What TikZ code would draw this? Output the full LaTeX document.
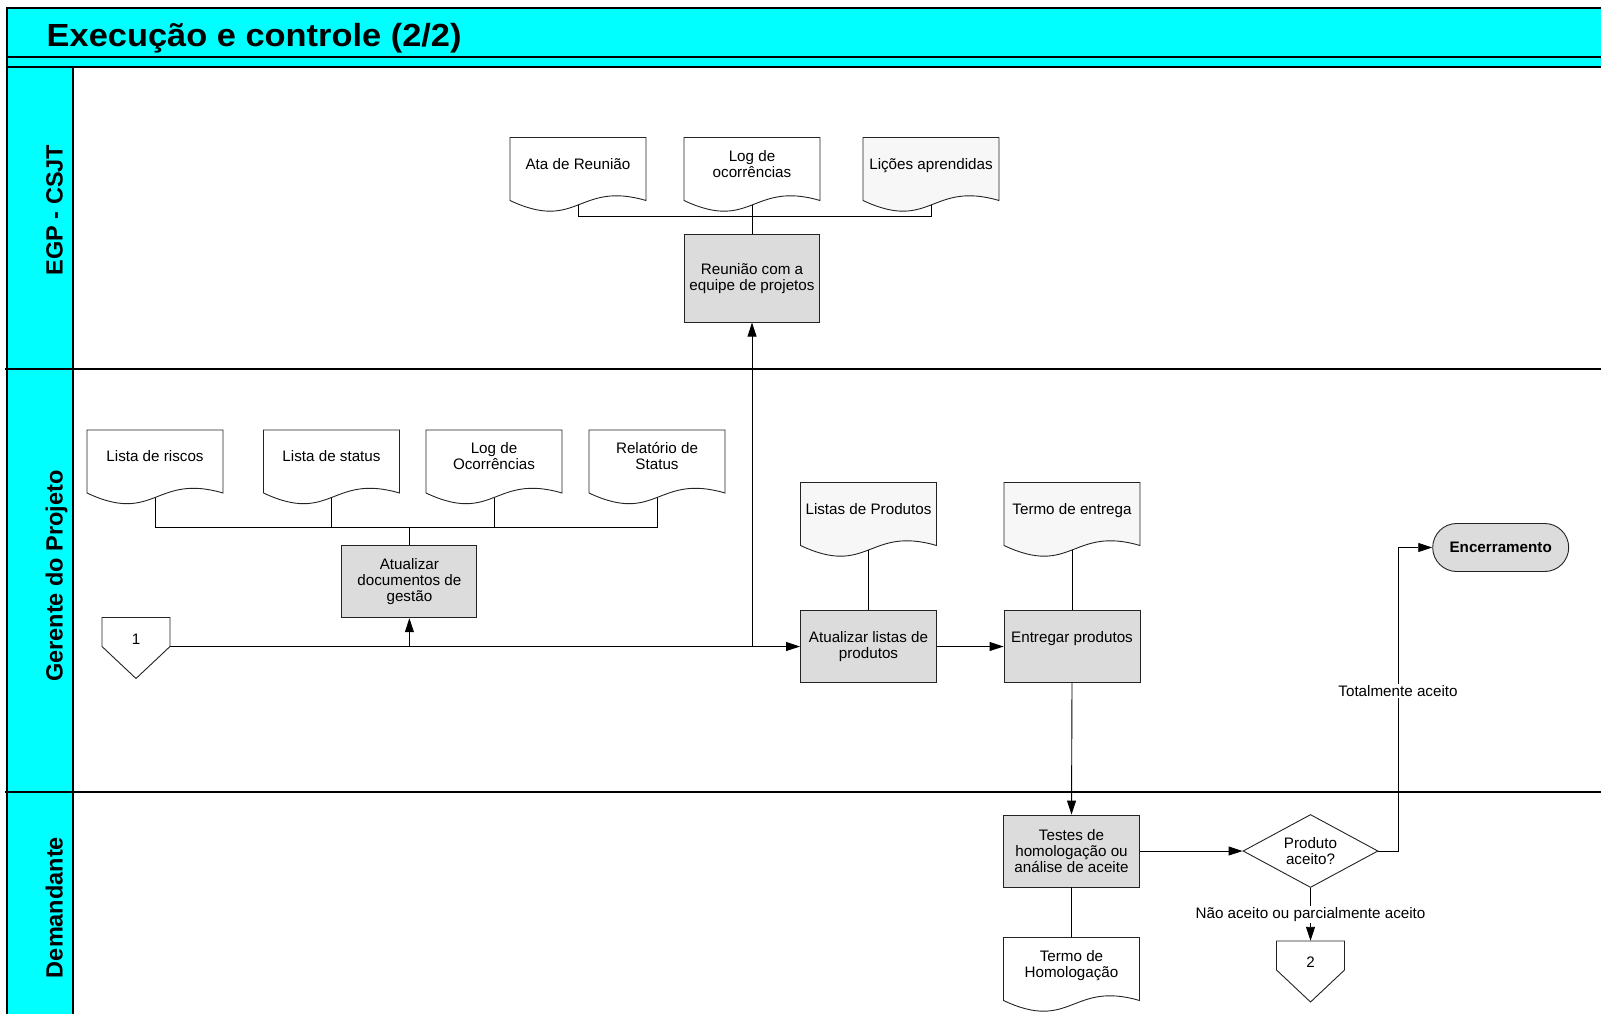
\documentclass[tikz,border=0pt]{standalone}
\usepackage{fontspec}
\setmainfont{Liberation Sans}
\usetikzlibrary{shapes.geometric,arrows.meta}

\definecolor{lanecyan}{RGB}{0,255,255}
\definecolor{procgray}{RGB}{220,220,220}
\definecolor{docgray}{RGB}{247,247,247}
\definecolor{edgegray}{RGB}{35,35,35}

\tikzset{
  txt/.style={font=\fontsize{15.2}{16}\selectfont, align=center, inner sep=0pt},
  proc/.style={txt, draw=edgegray, fill=procgray, line width=0.9pt,
    minimum width=135pt, minimum height=72pt},
  decision/.style={diamond, draw=edgegray, fill=white, line width=0.9pt,
    minimum width=135pt, minimum height=73pt, inner sep=0pt},
  term/.style={txt, rectangle, rounded corners=24pt, draw=edgegray, fill=procgray,
    line width=0.9pt, minimum width=136pt, minimum height=48pt},
  conn/.style={draw=black, line width=0.9pt},
  arr/.style={conn, -{Triangle[length=14pt,width=9pt]}},
  lbl/.style={txt, fill=white, inner sep=1.5pt},
  lanelbl/.style={rotate=90, anchor=base, inner sep=0pt,
    font=\bfseries\fontsize{23.5}{28}\selectfont},
  frame/.style={draw=black, line width=1.1pt}
}

% document sheet with a wavy lower edge; #1 name, #2 left, #3 top, #4 fill, #5 text
\newcommand{\docsheet}[5]{%
  \begin{scope}[shift={(#2,#3)}]
    \filldraw[fill=#4, draw=edgegray, line width=0.9pt]
      (0,0) -- (136,0) -- (136,63) .. controls (68,43) and (68,95) .. (0,63) -- cycle;
    \node[txt, minimum width=136pt, minimum height=57pt] (#1) at (68,28.5) {#5};
    \coordinate (#1-b) at (68,67.5);
  \end{scope}}

% off-page connector; #1 name, #2 centre x, #3 top, #4 text
\newcommand{\offpageconn}[4]{%
  \begin{scope}[shift={(#2,#3)}]
    \filldraw[fill=white, draw=edgegray, line width=0.9pt]
      (-34,0) -- (34,0) -- (34,29) -- (0,61) -- (-34,29) -- cycle;
    \node[txt, minimum width=68pt, minimum height=43pt] (#1) at (0,21.5) {#4};
    \coordinate (#1-e) at (34,29);
  \end{scope}}

\begin{document}
\begin{tikzpicture}[x=1pt,y=-1pt]
\path[use as bounding box] (0,0) rectangle (1601,1014);
\clip (0,0) rectangle (1601,1014);
\fill[white] (0,0) rectangle (1601,1014);

% pool header, lane headers and lane separators
\filldraw[frame, fill=lanecyan] (7,8) rectangle (1610,57);
\filldraw[frame, fill=lanecyan] (7,57) rectangle (1610,67);
\filldraw[frame, fill=lanecyan] (7,67) rectangle (73,1020);
\draw[frame] (5,369) -- (1610,369);
\draw[frame] (5,792) -- (1610,792);

\node[anchor=base west, inner sep=0pt, font=\bfseries\fontsize{32}{38}\selectfont]
  (title) at (46.5,47) {\scalebox{1.075}[1]{Execução e controle (2/2)}};
\node[lanelbl] (laneegp) at (62.5,210) {EGP - CSJT};
\node[lanelbl] (lanegp) at (62.5,576) {Gerente do Projeto};
\node[lanelbl] (lanedem) at (62.5,907.5) {Demandante};

% EGP - CSJT
\docsheet{ata}{510}{137.5}{white}{Ata de Reunião\strut}
\docsheet{logo}{684}{137.5}{white}{Log de\strut\\ocorrências\strut}
\docsheet{licoes}{863}{137.5}{docgray}{Lições aprendidas\strut}
\node[proc, minimum height=88pt] (reuniao) at (752,278.2) {Reunião com a\\equipe de projetos};

% Gerente do Projeto
\docsheet{riscos}{87}{430}{white}{Lista de riscos\strut}
\docsheet{status}{263.5}{430}{white}{Lista de status\strut}
\docsheet{logoc}{426}{430}{white}{Log de\strut\\Ocorrências\strut}
\docsheet{relat}{589}{430}{white}{Relatório de\strut\\Status\strut}
\node[proc, minimum height=72.5pt] (atualdoc) at (409.4,581.5) {Atualizar\\documentos de\\gestão};
\offpageconn{c1}{136}{617.5}{1}
\docsheet{listprod}{800.5}{482.5}{docgray}{Listas de Produtos\strut}
\docsheet{termoent}{1004}{482.5}{docgray}{Termo de entrega\strut}
\node[proc, minimum width=136pt] (atuallist) at (868.5,646.5) {Atualizar listas de\\produtos};
\node[proc, minimum width=136pt] (entregar) at (1072,646.5)
  {\raisebox{8pt}[\height][\depth]{Entregar produtos}};
\node[term] (encerr) at (1500.7,547.5) {\textbf{Encerramento}};

% Demandante
\node[proc, minimum width=136pt] (testes) at (1071.5,851) {Testes de\\homologação ou\\análise de aceite};
\docsheet{termohom}{1003.5}{937.5}{white}{Termo de\strut\\Homologação\strut}
\node[decision] (dec) at (1310.5,851) {};
\node[txt] (dectxt) at (dec.center) {Produto\\aceito?};
\offpageconn{c2}{1310.5}{941}{2}

% document buses
\coordinate (bus1) at (752,216.7);
\draw[conn] (ata-b) -- (ata-b |- bus1) -- (licoes-b |- bus1) -- (licoes-b);
\draw[conn] (logo-b) -- (reuniao.north);
\coordinate (bus2) at (409.4,527.9);
\draw[conn] (riscos-b) -- (riscos-b |- bus2) -- (relat-b |- bus2) -- (relat-b);
\draw[conn] (status-b) -- (status-b |- bus2);
\draw[conn] (logoc-b) -- (logoc-b |- bus2);
\draw[conn] (bus2) -- (atualdoc.north);
\draw[conn] (listprod-b) -- (atuallist.north);
\draw[conn] (termoent-b) -- (entregar.north);
\draw[conn] (testes.south) -- (termohom.north);

% flow
\draw[arr] (c1-e) -- (atuallist.west);
\draw[arr] (atualdoc.south |- c1-e) -- (atualdoc.south);
\draw[arr] (reuniao.south |- c1-e) -- (reuniao.south);
\draw[arr] (atuallist.east) -- (entregar.west);
\draw[arr] (entregar.south) -- (testes.north);
\draw[arr] (testes.east) -- (dec.west);
\draw[arr] (dec.south) -- (c2.north)
  node[lbl, pos=0.5] (lblnao) {Não aceito ou parcialmente aceito};
\coordinate (turn) at (1398,547.5);
\draw[arr] (dec.east) -| (turn) -- (encerr.west);
\node[lbl] (lbltot) at (1398,691) {Totalmente aceito};
\end{tikzpicture}
\end{document}
